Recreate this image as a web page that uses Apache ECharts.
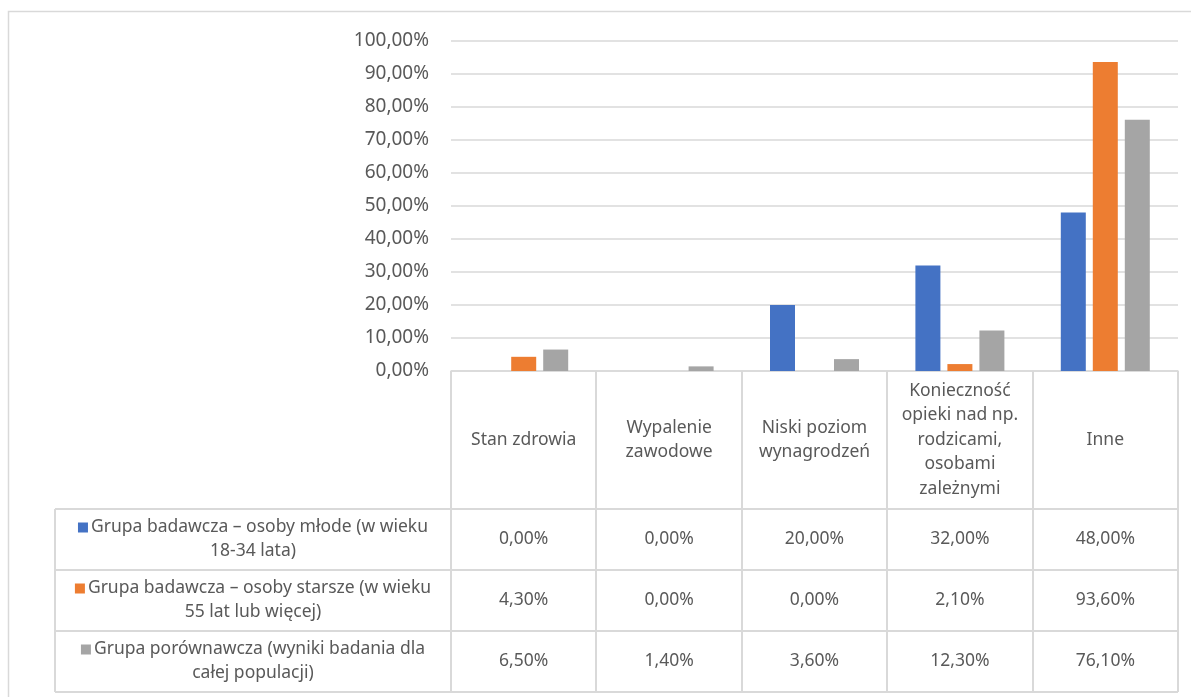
<!DOCTYPE html>
<html>
<head>
<meta charset="utf-8">
<script src="https://cdn.jsdelivr.net/npm/echarts@6/dist/echarts.min.js"></script>
<style>
html,body{margin:0;padding:0;background:#fff;}
#c{width:1191px;height:697px;}
</style>
</head>
<body>
<div id="c"></div>
<script>
const categories = ['Stan zdrowia', 'Wypalenie zawodowe', 'Niski poziom wynagrodzeń', 'Konieczność opieki nad np. rodzicami, osobami zależnymi', 'Inne'];
const headerLabels = ['Stan zdrowia', 'Wypalenie\nzawodowe', 'Niski poziom\nwynagrodzeń', 'Konieczność\nopieki nad np.\nrodzicami,\nosobami\nzależnymi', 'Inne'];
const seriesNames = ['Grupa badawcza – osoby młode (w wieku 18-34 lata)', 'Grupa badawcza – osoby starsze (w wieku 55 lat lub więcej)', 'Grupa porównawcza (wyniki badania dla całej populacji)'];
const legendLabels = ['Grupa badawcza – osoby młode (w wieku\n18-34 lata)', 'Grupa badawcza – osoby starsze (w wieku\n55 lat lub więcej)', 'Grupa porównawcza (wyniki badania dla\ncałej populacji)'];
const young = [0.0, 0.0, 20.0, 32.0, 48.0];
const older = [4.3, 0.0, 0.0, 2.1, 93.6];
const compare = [6.5, 1.4, 3.6, 12.3, 76.1];
const colors = ['#4472c4', '#ed7d31', '#a5a5a5'];
const seriesValues = [young, older, compare];

const fmt = v => v.toFixed(2).replace('.', ',') + '%';
const FONT = 'Noto Sans';
const TXT = '#595959';
const LINE = '#d9d9d9';

const chart = echarts.init(document.getElementById('c'), null, {renderer: 'canvas'});
const option = {
  animation: false,
  backgroundColor: '#fff',
  grid: {left: 451, right: 13, top: 41, bottom: 326},
  xAxis: {
    type: 'category',
    data: categories,
    axisLine: {show: true, lineStyle: {color: LINE, width: 1.5}},
    axisTick: {show: false},
    axisLabel: {show: false},
    splitLine: {show: false}
  },
  yAxis: {
    type: 'value',
    min: 0, max: 100, interval: 10,
    axisLine: {show: false},
    axisTick: {show: false},
    axisLabel: {formatter: v => fmt(v), color: TXT, fontFamily: FONT, fontSize: 19, margin: 22},
    splitLine: {lineStyle: {color: LINE, width: 1.5}}
  },
  series: seriesValues.map((vals, i) => ({
    name: seriesNames[i],
    type: 'bar',
    data: vals,
    barWidth: 25,
    barGap: '28%',
    itemStyle: {color: colors[i]}
  }))
};
chart.setOption(option);

function buildTable() {
  const xs = categories.map((c, i) => chart.convertToPixel({xAxisIndex: 0}, i));
  const catW = xs[1] - xs[0];
  const y0 = chart.convertToPixel({yAxisIndex: 0}, 0);
  const headerH = 138, rowH = 61;
  const tableLeft = xs[0] - catW / 2;
  const tableRight = xs[xs.length - 1] + catW / 2;
  const legendLeft = 55;
  const yRows = y0 + headerH;
  const yBottom = yRows + rowH * seriesValues.length;
  const els = [];
  const lineStyle = {stroke: LINE, lineWidth: 2};
  const font = '17.5px "' + FONT + '"';
  els.push({type: 'rect', shape: {x: 8.5, y: 11.5, width: 1200, height: 700}, style: {fill: null, stroke: LINE, lineWidth: 1.5}, z: 0});
  for (let i = 0; i <= categories.length; i++) {
    const x = Math.round(tableLeft + i * catW);
    els.push({type: 'line', shape: {x1: x, y1: y0, x2: x, y2: yBottom}, style: lineStyle});
  }
  els.push({type: 'line', shape: {x1: legendLeft, y1: yRows, x2: legendLeft, y2: yBottom}, style: lineStyle});
  for (let r = 0; r <= seriesValues.length; r++) {
    const y = Math.round(yRows + r * rowH);
    els.push({type: 'line', shape: {x1: legendLeft, y1: y, x2: tableRight, y2: y}, style: lineStyle});
  }
  headerLabels.forEach((t, i) => {
    els.push({type: 'text', x: xs[i], y: y0 + headerH / 2,
      style: {text: t, fill: TXT, font: font, align: 'center', verticalAlign: 'middle', lineHeight: 24.5}});
  });
  seriesValues.forEach((vals, r) => {
    const yc = yRows + r * rowH + rowH / 2;
    els.push({type: 'text', x: (legendLeft + tableLeft) / 2, y: yc,
      style: {text: '{m|}{g|}' + legendLabels[r], fill: TXT, font: font, align: 'center', verticalAlign: 'middle', lineHeight: 24,
        rich: {m: {width: 10, height: 10, backgroundColor: colors[r]}, g: {width: 3}}}});
    vals.forEach((v, i) => {
      els.push({type: 'text', x: xs[i], y: yc,
        style: {text: fmt(v), fill: TXT, font: font, align: 'center', verticalAlign: 'middle'}});
    });
  });
  chart.setOption({graphic: {elements: els}});
}
buildTable();
</script>
</body>
</html>
